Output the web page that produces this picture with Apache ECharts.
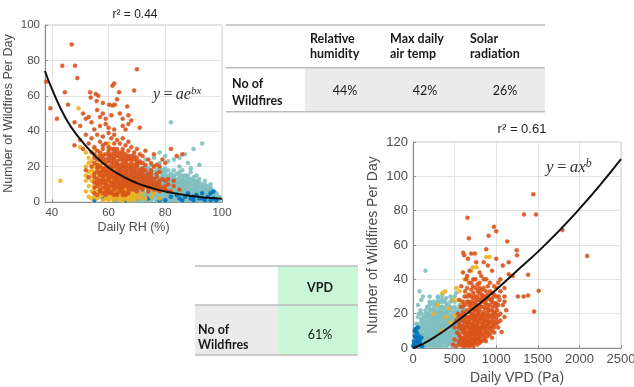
<!DOCTYPE html>
<html><head><meta charset="utf-8">
<script src="https://cdn.jsdelivr.net/npm/echarts@6/dist/echarts.min.js"></script>
<style>html,body{margin:0;padding:0;background:#fff}#c{width:634px;height:387px}</style>
</head><body><div id="c"></div>
<script>
// ---------- data: left panel (Daily RH vs fires) ----------
const rhTicks = [40, 60, 80, 100];
const rhRed = [[38,68],[39.5,53],[41.8,47],[43.7,77],[44.6,62],[45.7,55],[47,89],[48.2,77],[49,70],[51,50],[52,47],[53.5,62],[53.7,59],[55.5,61],[56.4,60],[55.8,57],[54,45],[56,52],[57,48],[58,56],[59,44],[60.2,55],[61.4,54.5],[62.2,55],[61.4,65.7],[62,67],[63.7,62],[64,50],[65,47],[66.6,54],[67,44],[69,63],[70,75],[68,46],[71,42],[60,42],[62,41],[58,50],[57,43],[55,41],[53,48],[50,43],[48,45],[63,58],[65,43],[66,41],[59,47],[61,49],[67,49],
[48,32],[50,35],[51,30],[52,38],[53,33],[54,28],[54,36],[55,31],[55,25],[56,38],[56,29],[57,34],[57,24],[58,37],[58,30],[58,26],[59,33],[59,22],[60,39],[60,31],[60,27],[60,23],[61,36],[61,30],[61,25],[62,38],[62,33],[62,28],[62,22],[63,35],[63,30],[63,26],[63,21],[64,33],[64,28],[64,24],[65,36],[65,30],[65,26],[65,22],[66,32],[66,27],[66,23],[67,34],[67,29],[67,24],[68,31],[68,26],[68,22],[69,28],[69,24],[70,30],[70,25],[70,21],[71,27],[71,23],[72,26],[72,22],[73,29],[74,24],[75,22],[76,27],[77,21],[79,24],[80,22],[82,30],[84,26],[86,27],[78,20],
[52,18],[53,14],[54,20],[55,16],[55,11],[56,19],[56,13],[57,17],[57,10],[58,15],[58,19],[58,8],[59,12],[59,17],[60,14],[60,18],[60,9],[61,11],[61,16],[61,19],[62,13],[62,17],[62,7],[63,12],[63,15],[63,18],[64,10],[64,14],[64,19],[65,8],[65,12],[65,16],[66,11],[66,14],[66,18],[67,9],[67,13],[67,17],[68,7],[68,11],[68,15],[68,19],[69,9],[69,13],[69,17],[70,6],[70,10],[70,14],[70,18],[71,8],[71,12],[71,16],[72,7],[72,11],[72,15],[73,9],[73,13],[73,18],[74,6],[74,10],[74,14],[75,8],[75,12],[75,16],[76,7],[76,11],[77,9],[77,14],[78,6],[78,10],[79,8],[79,13],[80,7],[81,10],[82,6],[83,9],[85,7],[61,5],[63,4],[66,4],[59,6],[57,6]];
// dense core, listed column by column: [x, [y values]]
const rhRedCore = [[55,[5,8,14,22,27]],[56,[4,9,11,17,21,24]],[57,[7,12,15,20,26,28]],[58,[5,11,13,17,22,24,32]],[59,[4,8,10,15,19,24,27]],[60,[5,7,12,16,20,25,29]],[61,[6,9,14,18,21,23,27]],[62,[4,9,11,15,20,24,26,30]],[63,[5,8,10,14,16,20,23,28]],[64,[6,8,12,16,18,21,26]],[65,[4,6,10,14,18,20,24,28]],[66,[5,9,12,16,20,22,25]],[67,[5,7,11,15,19,21,26]],[68,[9,13,17,20,24]],[69,[7,11,15,19,21,26]],[70,[8,12,16,20,23]],[71,[10,14,18,22]],[72,[9,13,17,19]],[73,[11,15,21]],[74,[8,12,16]],[75,[10,14,18]],[76,[9,13,20]],[77,[7,11,16]],[78,[8,12,17]],[80,[9,12]],[81,[6,13]],[83,[12]]];
const rhYellow = [[43,12],[49.4,53],[50,31],[52,28],[53,22],[54,18],[54,12],[55,20],[55,9],[56,15],[56,6],[57,22],[57,13],[57,3],[58,18],[58,10],[58,4],[59,14],[59,7],[59,21],[60,11],[60,3],[60,16],[61,8],[61,13],[61,2],[62,19],[62,10],[62,5],[63,14],[63,7],[63,2],[64,11],[64,4],[64,17],[65,9],[65,5],[65,13],[66,7],[66,2],[66,20],[67,10],[67,4],[68,6],[68,13],[69,3],[69,9],[70,5],[70,12],[71,3],[71,8],[72,5],[73,2],[74,7],[75,3],[76,5],[78,2],[56,26],[58,27],[60,33],[62,25],[55,30]];
const rhYellowCore = [[52,[6,12,15,20]],[53,[3,9,17,25]],[54,[2,6,15,23]],[55,[3,6,12,17]],[56,[2,9,11,20]],[57,[5,8,16,19]],[58,[1,6,13,15]],[59,[2,5,10,17]],[60,[1,6,8,13]],[61,[4,6,11,15]],[62,[1,3,8,13]],[63,[4,5,9,12]],[64,[1,2,6,9]],[65,[1,3,7,11]],[66,[4,5,9]],[67,[1,2,7]],[68,[2,4,9]],[69,[1,5]],[70,[2,3]],[72,[2]]];
const rhTeal = [[65,20],[66,15],[67,25],[68,10],[68,18],[69,6],[69,14],[70,22],[70,9],[70,3],[71,16],[71,5],[72,12],[72,19],[72,2],[73,8],[73,14],[73,24],[74,4],[74,11],[74,17],[75,7],[75,13],[75,21],[75,2],[76,10],[76,15],[76,4],[76,25],[77,6],[77,12],[77,18],[78,3],[78,9],[78,14],[78,22],[79,5],[79,11],[79,16],[80,2],[80,8],[80,13],[80,19],[81,4],[81,10],[81,15],[81,23],[82,6],[82,12],[82,2],[82,45],[83,8],[83,14],[83,18],[84,3],[84,10],[84,5],[85,7],[85,13],[85,20],[86,2],[86,9],[86,15],[87,4],[87,11],[87,6],[88,8],[88,13],[88,2],[89,5],[89,10],[89,17],[90,3],[90,7],[90,12],[90,30],[91,5],[91,9],[91,2],[92,6],[92,11],[92,21],[93,3],[93,8],[93,33],[94,5],[94,2],[95,7],[95,4],[96,3],[96,6],[97,2],[97,4],[98,3],[99,1],[85,25],[87,27],[80,26],[78,28],[83,24],[88,22],[89,19],[91,15],[94,12],[96,10],[77,1],[79,1],[81,1],[83,1],[85,1],[87,1],[89,1],[92,1],[95,1],[74,1],[72,0.5],[70,1]];
const rhTealCore = [[63,[1,3,6]],[64,[2,5,8]],[65,[1,4,7,10]],[66,[2,6,9,12]],[67,[1,3,5,8,11]],[68,[1,4,7,12,15]],[69,[2,8,11,17]],[70,[5,7,12,15]],[71,[1,3,7,10,13,19]],[72,[4,6,9,14,16]],[73,[1,3,5,11,16,20]],[74,[2,6,8,13,15,19]],[75,[1,4,5,9,11,15,18]],[76,[2,6,8,12,13,17,20]],[77,[1,3,4,8,10,15,16]],[78,[2,5,7,11,12,17,19]],[79,[1,3,7,9,13,14,18]],[80,[1,4,5,10,11,15,17]],[81,[2,3,6,8,12,13,18]],[82,[1,4,5,8,9,10,14,16]],[83,[2,3,5,6,10,11,12,15]],[84,[1,2,6,7,8,12,13,16]],[85,[2,3,4,5,9,10,11,15,17]],[86,[1,3,4,6,7,11,12,13,18]],[87,[2,3,5,7,8,9,13,15]],[88,[1,3,4,5,6,10,11,15]],[89,[2,3,4,7,8,12,13]],[90,[1,2,4,5,6,9,10,14]],[91,[1,3,4,6,7,8,11,12]],[92,[2,3,4,5,8,9,13]],[93,[1,2,4,5,6,7,10]],[94,[1,3,4,6,7,8,10]],[95,[2,3,5,6,9]],[96,[1,2,4,5,7,8]],[97,[1,3,5,6]],[98,[1,2,4,5]],[99,[2,3]]];
const rhBlue = [[55,1],[58,2],[62,1],[66,1],[70,2],[74,2],[78,1],[82,3],[84,4],[86,1],[88,5],[89,2],[90,1],[91,4],[92,2],[93,5],[94,1],[95,3],[96,1],[96,5],[97,2],[98,1],[97,6],[93,2],[90,3],[87,3],[85,2],[80,1]];
const rhFit = [[37.6,74],[40,64],[45,47],[50,35.5],[55,26.5],[60,19.5],[65,14.5],[70,10.7],[75,8],[80,5.9],[85,4.4],[90,3.2],[95,2.4],[100,1.8]];

// ---------- data: right panel (Daily VPD vs fires) ----------
const vpdRed = [[1446,89.6],[1479,77.8],[1334,77.8],[1796,68.7],[2094,53.6],[1511,33.3],[1455,21.3],[1383,30.6],[1383,42.6],[1246,57],[1250,54],[1133,62],[973,70.6],[1000,68],[909,65.4],[655,75.9],[671,63.9],[603,55.5],[615,54],[744,55],[880,57.5],[1150,43],[1200,42],[1330,30],[1260,30],[1065,9.3],[960,20],[1100,35],[1050,40],[950,45],[900,48],[850,50],[800,44],[750,40],[700,38],[650,42],[1000,30],[1040,28],[1080,25],[1120,22],[980,15],[920,12],[1000,52],[1080,48],[1150,50],
[480,2],[500,5],[520,1],[530,9],[550,4],[550,14],[560,7],[570,2],[580,11],[580,19],[590,5],[600,1],[600,9],[600,16],[600,24],[610,3],[620,12],[620,20],[620,30],[630,6],[640,15],[640,2],[650,9],[650,22],[650,35],[660,4],[660,13],[670,18],[670,27],[680,7],[680,11],[690,2],[690,23],[700,14],[700,5],[700,30],[710,9],[710,19],[720,12],[720,26],[720,36],[730,3],[730,16],[740,8],[740,22],[750,30],[750,13],[760,5],[760,19],[770,25],[770,10],[780,15],[780,33],[790,7],[790,21],[800,12],[800,28],[800,38],[810,17],[810,4],[820,24],[820,9],[830,14],[830,31],[840,20],[850,11],[850,27],[850,35],[860,16],[870,6],[870,23],[880,30],[880,13],[890,19],[900,9],[900,25],[900,36],[910,15],[920,22],[930,28],[940,18],[950,10],[950,32],[960,24],[970,14],[980,26],[990,20],[1000,35],[1010,22],[1020,15],[1030,30],[560,28],[580,36],[540,20],[520,16],[500,12],[640,40],[680,45],[600,44],[760,50],[820,42],[880,40],[660,52],[700,55]];
const vpdRedCore = [[550,[2,8,12,18]],[575,[4,6,13,16,24]],[600,[3,6,11,13,19,21,27]],[625,[1,5,8,10,15,17,25,33]],[650,[2,4,7,12,14,18,27,30]],[675,[1,3,6,9,15,16,21,25,31,38]],[700,[2,4,8,10,12,17,20,25,27,34]],[725,[1,5,7,11,14,18,20,23,29,32,40]],[750,[3,6,9,11,16,18,22,25,27,35]],[775,[2,5,8,12,13,17,20,23,28,30,37]],[800,[3,6,9,10,15,19,22,25,32,35]],[825,[4,7,11,12,17,19,27,29,34]],[850,[5,8,13,15,18,21,24,30,40]],[875,[4,9,10,16,19,26,28,33]],[900,[7,12,14,17,21,23,29,31]],[925,[8,11,15,19,25,33,38]],[950,[6,13,16,22,27,29]],[975,[9,12,18,21,31,36]],[1000,[14,17,24,26]],[1025,[12,19,25,38]],[1050,[16,20,33]],[1100,[18,27,30]]];
const vpdYellow = [[250,20],[300,25],[354,32],[386,33],[427,23],[450,15],[499,19],[520,35],[540,28],[587,26],[600,10],[630,18],[660,31],[700,22],[720,47],[750,14],[764,47],[800,25],[850,8],[870,12],[880,53],[921,53],[350,10],[400,18],[480,28],[560,33],[620,40],[700,45]];
const vpdTeal = [[10,1],[20,3],[30,2],[40,5],[50,1],[50,8],[60,4],[70,10],[80,2],[80,6],[90,12],[100,3],[100,8],[110,15],[120,5],[120,11],[130,2],[130,18],[140,7],[140,13],[150,4],[150,20],[150,45],[160,9],[160,15],[170,2],[170,24],[180,6],[180,12],[180,18],[190,10],[200,3],[200,8],[200,14],[200,21],[210,16],[210,26],[220,5],[220,11],[230,19],[230,8],[240,13],[240,2],[250,6],[250,17],[250,23],[260,10],[260,15],[270,4],[270,20],[280,8],[280,13],[290,18],[290,25],[300,5],[300,11],[300,16],[310,21],[310,2],[320,9],[320,14],[330,6],[330,19],[340,12],[340,24],[350,3],[350,8],[350,17],[360,14],[360,22],[370,6],[370,11],[380,19],[380,27],[390,9],[390,15],[400,4],[400,13],[400,21],[410,17],[420,8],[420,25],[430,12],[430,19],[440,5],[440,15],[450,10],[450,22],[460,17],[470,13],[470,28],[480,8],[480,20],[490,15],[500,11],[500,24],[510,18],[520,14],[520,32],[530,21],[540,9],[550,17],[560,25],[580,20],[600,14],[620,22],[60,25],[80,33],[100,28],[120,30],[60,18],[40,14],[200,30],[300,30],[350,29],[30,10],[70,20],[90,22],
[50,14],[100,17],[100,20],[150,22],[200,25],[200,27],[250,27],[300,27],[300,29],[350,27],[350,31],[400,29],[450,27],[450,30],[500,27],[500,30]];
const vpdTealCore = [[25,[1,3,5,8]],[50,[3,5,7,10,12]],[75,[1,4,6,9,13]],[100,[1,2,5,7,10,12,15]],[125,[3,4,6,8,13,17]],[150,[1,2,5,7,9,11,15,18]],[175,[3,5,8,10,13,16,20]],[200,[1,4,6,10,12,16,19,23]],[225,[2,3,7,9,13,15,18,22]],[250,[1,4,8,10,12,14,19,21,25]],[275,[2,5,6,9,11,15,17,22,26]],[300,[1,3,7,9,13,14,18,20,24]],[325,[2,4,5,8,11,16,17,21,23,27]],[350,[1,5,6,10,12,13,15,19,20,24]],[375,[3,4,8,9,13,16,17,21,23]],[400,[1,2,6,7,10,11,15,18,19,24,26]],[425,[2,4,6,9,14,16,21,22]],[450,[3,5,7,8,12,13,17,19,24]],[475,[1,4,6,10,11,16,18,23]],[500,[2,3,7,9,13,15,19,21]],[525,[4,6,10,12,16,19,23]],[550,[5,8,11,13,18,21]],[575,[10,15,19,23]],[600,[12,17,21]]];
const vpdBlue = [[5,1],[10,4],[15,2],[20,7],[25,1],[30,11],[35,3],[40,6],[45,9],[50,2],[55,5],[60,12],[65,3],[70,7],[80,4],[90,2],[100,6],[110,1],[20,10],[10,2]];
const vpdFit = [[0,0],[100,1.9],[250,6],[500,14.5],[750,24],[1000,34],[1250,45],[1500,56],[1750,68],[2000,81],[2250,95],[2500,110]];

// ---------- tables ----------
const topHeaders = [['Relative','humidity'],['Max daily','air temp'],['Solar','radiation']];
const topValues = ['44%','42%','26%'];
const bottomHeader = 'VPD';
const bottomValue = '61%';
const rowLabel = ['No of','Wildfires'];

// expand column lists into [x, y] pairs
const cols = list => list.flatMap(([x, ys]) => ys.map(y => [x, y]));

const C = {red:'#d95319', yellow:'#edb120', teal:'#7fbfbf', blue:'#0072bd'};
const axisFont = 'Liberation Sans';
const tableFont = 'Lato';

function scat(data, color, xi, z) {
  return {type:'scatter', xAxisIndex:xi, yAxisIndex:xi, data, symbolSize:4, z,
    itemStyle:{color, opacity:0.9, borderColor:color, borderWidth:0.5}, silent:true, animation:false};
}
function valAxis(gi, min, max, interval, fs, extra) {
  return Object.assign({type:'value', gridIndex:gi, min, max, interval,
    axisLine:{show:true, onZero:false, lineStyle:{color:'#8c8c8c', width:1}},
    axisTick:{show:true, inside:true, length:3, lineStyle:{color:'#8c8c8c'}},
    axisLabel:{color:'#4d4d4d', fontFamily:axisFont, fontSize:fs, margin:5, formatter: v => String(v)},
    splitLine:{show:true, lineStyle:{color:'#e3e3e3', width:1}},
    nameTextStyle:{color:'#4d4d4d', fontFamily:axisFont, fontSize:fs+1},
    nameLocation:'middle'}, extra||{});
}

const g = [];
const lineC = '#bdbdbd';
// top table
g.push({type:'rect', shape:{x:305,y:68,width:240,height:43.5}, style:{fill:'#ebebeb'}});
[25,67.7,111.7].forEach(y=>g.push({type:'line', shape:{x1:226,y1:y,x2:545,y2:y}, style:{stroke:lineC, lineWidth:1.5}}));
topHeaders.forEach((h,i)=>{
  g.push({type:'text', x:310+i*80, y:31, style:{text:h.join('\n'), font:'bold 12.5px '+tableFont, fill:'#1a1a1a', lineHeight:15}});
  g.push({type:'text', x:345+i*80, y:91, style:{text:topValues[i], font:'12.5px '+tableFont, fill:'#1a1a1a', align:'center', verticalAlign:'middle'}});
});
g.push({type:'text', x:232, y:75, style:{text:rowLabel.join('\n'), font:'bold 12.5px '+tableFont, fill:'#1a1a1a', lineHeight:17}});
// bottom table
g.push({type:'rect', shape:{x:278,y:266,width:80,height:89}, style:{fill:'#c9f7d7'}});
g.push({type:'rect', shape:{x:195,y:305,width:83,height:50}, style:{fill:'#ebebeb'}});
[266,305,355].forEach(y=>g.push({type:'line', shape:{x1:195,y1:y,x2:358,y2:y}, style:{stroke:lineC, lineWidth:1.5}}));
g.push({type:'text', x:320, y:288, style:{text:bottomHeader, font:'bold 12.5px '+tableFont, fill:'#1a1a1a', align:'center', verticalAlign:'middle'}});
g.push({type:'text', x:320, y:335, style:{text:bottomValue, font:'12.5px '+tableFont, fill:'#1a1a1a', align:'center', verticalAlign:'middle'}});
g.push({type:'text', x:198, y:322, style:{text:rowLabel.join('\n'), font:'bold 12.5px '+tableFont, fill:'#1a1a1a', lineHeight:15}});
// formulas
const rich = fs => ({i:{fontFamily:'Liberation Serif', fontStyle:'italic', fontSize:fs, fill:'#333'},
  n:{fontFamily:'Liberation Serif', fontSize:fs, fill:'#333'},
  s:{fontFamily:'Liberation Serif', fontStyle:'italic', fontSize:fs*0.7, fill:'#333', verticalAlign:'top', padding:[0,0,fs*0.45,0]}});
g.push({type:'text', x:153, y:95, z:100, style:{text:'{i|y} {n|=} {i|ae}{s|bx}', rich:rich(16), verticalAlign:'middle'}});
g.push({type:'text', x:546, y:168, z:100, style:{text:'{i|y} {n|=} {i|ax}{s|b}', rich:rich(17), verticalAlign:'middle'}});
// r² titles
g.push({type:'text', x:135, y:15, style:{text:'r² = 0.44', font:'12px '+axisFont, fill:'#222', align:'center', verticalAlign:'middle'}});
g.push({type:'text', x:522, y:129, style:{text:'r² = 0.61', font:'13px '+axisFont, fill:'#222', align:'center', verticalAlign:'middle'}});

const option = {
  animation:false,
  backgroundColor:'#fff',
  grid:[
    {left:45, top:25, width:177, height:177, show:true, borderColor:'#c8c8c8', borderWidth:1, backgroundColor:'transparent', outerBoundsMode:'none'},
    {left:413, top:142, width:208, height:206, show:true, borderColor:'#c8c8c8', borderWidth:1, backgroundColor:'transparent', outerBoundsMode:'none'}
  ],
  xAxis:[
    valAxis(0, 37.6, 100, null, 11.5, {name:'Daily RH (%)', nameGap:19,
      axisTick:{show:true, inside:true, length:3, lineStyle:{color:'#8c8c8c'}, customValues:rhTicks},
      axisLabel:{color:'#4d4d4d', fontFamily:axisFont, fontSize:11.5, margin:5, customValues:rhTicks}}),
    valAxis(1, 0, 2500, 500, 13, {name:'Daily VPD (Pa)', nameGap:17})
  ],
  yAxis:[
    valAxis(0, 0, 100, 20, 11.5, {name:'Number of Wildfires Per Day', nameGap:30}),
    valAxis(1, 0, 120, 20, 13, {name:'Number of Wildfires Per Day', nameGap:33})
  ],
  series:[
    scat(rhTeal.concat(cols(rhTealCore)), C.teal, 0, 2),
    scat(rhBlue, C.blue, 0, 3),
    scat(rhYellow.concat(cols(rhYellowCore)), C.yellow, 0, 4),
    scat(rhRed.concat(cols(rhRedCore)), C.red, 0, 5),
    {type:'line', xAxisIndex:0, yAxisIndex:0, data:rhFit, smooth:true, showSymbol:false, symbol:'none', z:10, clip:true,
      lineStyle:{color:'#111', width:2}, silent:true},
    scat(vpdTeal.concat(cols(vpdTealCore)), C.teal, 1, 2),
    scat(vpdBlue, C.blue, 1, 3),
    scat(vpdYellow, C.yellow, 1, 4),
    scat(vpdRed.concat(cols(vpdRedCore)), C.red, 1, 5),
    {type:'line', xAxisIndex:1, yAxisIndex:1, data:vpdFit, smooth:true, showSymbol:false, symbol:'none', z:10,
      lineStyle:{color:'#111', width:2}, silent:true}
  ],
  graphic:g
};
const chart = echarts.init(document.getElementById('c'), null, {renderer:'canvas'});
chart.setOption(option);
</script></body></html>
